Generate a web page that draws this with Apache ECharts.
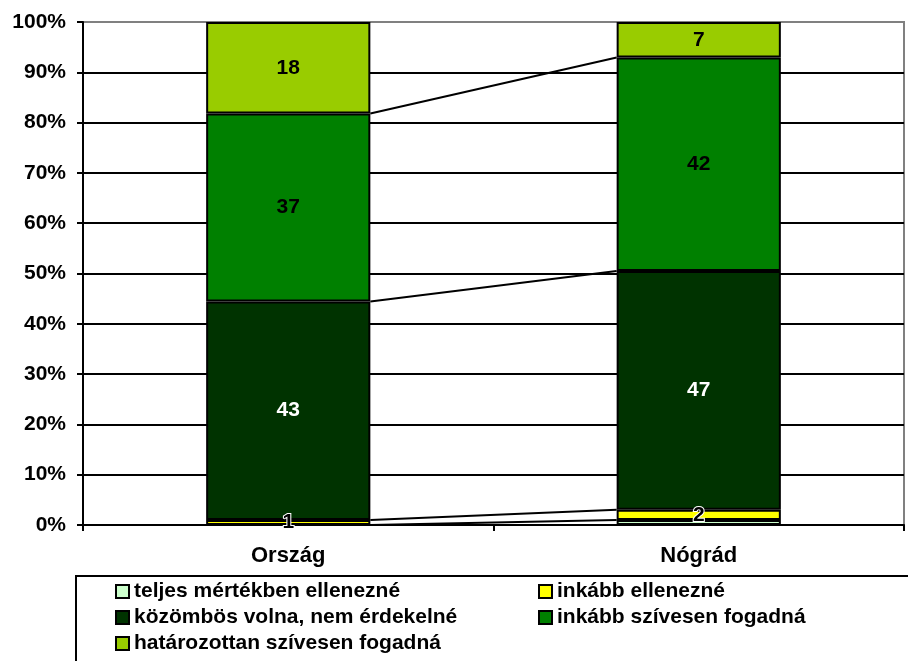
<!DOCTYPE html>
<html>
<head>
<meta charset="utf-8">
<script src="https://cdn.jsdelivr.net/npm/echarts@6/dist/echarts.min.js"></script>
<style>
  html, body { margin: 0; padding: 0; background: #fff; }
  #chart { width: 908px; height: 661px; }
</style>
</head>
<body>
<div id="chart"></div>
<script>
const categories = ['Ország', 'Nógrád']
const seriesNames = [
  'teljes mértékben ellenezné',
  'inkább ellenezné',
  'közömbös volna, nem érdekelné',
  'inkább szívesen fogadná',
  'határozottan szívesen fogadná'
]
const teljes = [0, 1]
const inkabbEllen = [1, 2]
const kozombos = [43, 47]
const inkabbSziv = [37, 42]
const hatarozottan = [18, 7]
const yTicks = ['0%', '10%', '20%', '30%', '40%', '50%', '60%', '70%', '80%', '90%', '100%']

const colors = ['#ccffcc', '#ffff00', '#003300', '#008000', '#99cc00']
const labelColors = ['#000', '#000', '#fff', '#000', '#000']
const raw = [teljes, inkabbEllen, kozombos, inkabbSziv, hatarozottan]

// share of each category total, so the stack reaches 100%
const totals = categories.map((c, i) => raw.reduce((s, arr) => s + arr[i], 0))
const pct = raw.map(arr => arr.map((v, i) => v / totals[i] * 100))

// series lines: cumulative top of each segment, left bar -> right bar
const cum = raw.map((arr, k) => categories.map((c, i) => {
  let s = 0
  for (let j = 0; j <= k; j++) s += pct[j][i]
  return s
}))
const lineData = cum.slice(0, 4).map(c => [0, c[0], c[1]])

const barFrac = 0.4
const font = '"Liberation Sans", Arial, sans-serif'
const fs = 21

const chart = echarts.init(document.getElementById('chart'))

const barSeries = seriesNames.map((name, k) => ({
  name,
  type: 'bar',
  stack: 'total',
  barWidth: (barFrac * 100) + '%',
  data: pct[k],
  // thin yellow segment: its label spills over the dark green, keep it on top
  z: k === 1 ? 4 : 2,
  itemStyle: { color: colors[k], borderColor: '#000', borderWidth: 2 },
  label: {
    show: k > 0,
    position: 'inside',
    fontFamily: font,
    fontWeight: 'bold',
    fontSize: fs,
    color: labelColors[k],
    textBorderColor: k === 1 ? '#fff' : 'transparent',
    textBorderWidth: k === 1 ? 2 : 0,
    formatter: p => raw[k][p.dataIndex]
  },
  emphasis: { disabled: true }
}))

const legendText = { fontFamily: font, fontWeight: 'bold', fontSize: fs, lineHeight: 21, color: '#000' }

const option = {
  animation: false,
  grid: { left: 83, right: 4, top: 22, bottom: 136, show: true, borderColor: '#808080', borderWidth: 2 },
  xAxis: {
    type: 'category',
    data: categories,
    axisLine: { lineStyle: { color: '#000', width: 2 } },
    axisTick: { show: true, length: 6, lineStyle: { color: '#000', width: 2 } },
    axisLabel: { color: '#000', fontFamily: font, fontWeight: 'bold', fontSize: fs + 1, margin: 20 }
  },
  yAxis: {
    type: 'value',
    min: 0,
    max: 100,
    interval: 10,
    axisLine: { show: true, lineStyle: { color: '#000', width: 2 } },
    axisTick: { show: true, length: 6, lineStyle: { color: '#000', width: 2 } },
    axisLabel: {
      color: '#000', fontFamily: font, fontWeight: 'bold', fontSize: fs, margin: 17,
      formatter: v => yTicks[Math.round(v / 10)]
    },
    splitLine: {
      lineStyle: {
        color: ['#000', '#000', '#000', '#000', '#000', '#000', '#000', '#000', '#000', '#000', '#808080'],
        width: 2
      }
    }
  },
  legend: [
    {
      data: [seriesNames[0], seriesNames[2], seriesNames[4]],
      orient: 'vertical',
      left: 115,
      top: 581,
      padding: 0,
      icon: 'rect',
      itemWidth: 13,
      itemHeight: 13,
      itemGap: 5,
      itemStyle: { borderColor: '#000', borderWidth: 2 },
      textStyle: legendText,
      selectedMode: false
    },
    {
      data: [seriesNames[1], seriesNames[3]],
      orient: 'vertical',
      left: 538,
      top: 581,
      padding: 0,
      icon: 'rect',
      itemWidth: 13,
      itemHeight: 13,
      itemGap: 5,
      itemStyle: { borderColor: '#000', borderWidth: 2 },
      textStyle: legendText,
      selectedMode: false
    }
  ],
  graphic: [
    {
      type: 'rect',
      shape: { x: 76, y: 576, width: 860, height: 100 },
      style: { fill: 'none', stroke: '#000', lineWidth: 2 },
      z: 0
    }
  ],
  series: [
    ...barSeries,
    {
      type: 'custom',
      name: 'seriesLines',
      data: lineData,
      encode: { x: 0, y: 1 },
      z: 3,
      silent: true,
      renderItem: (params, api) => {
        const band = api.size([1, 0])[0]
        const a = api.coord([0, api.value(1)])
        const b = api.coord([1, api.value(2)])
        return {
          type: 'line',
          shape: { x1: a[0] + band * barFrac / 2, y1: a[1], x2: b[0] - band * barFrac / 2, y2: b[1] },
          style: { stroke: '#000', lineWidth: 2 }
        }
      }
    }
  ]
}

chart.setOption(option)
</script>
</body>
</html>
